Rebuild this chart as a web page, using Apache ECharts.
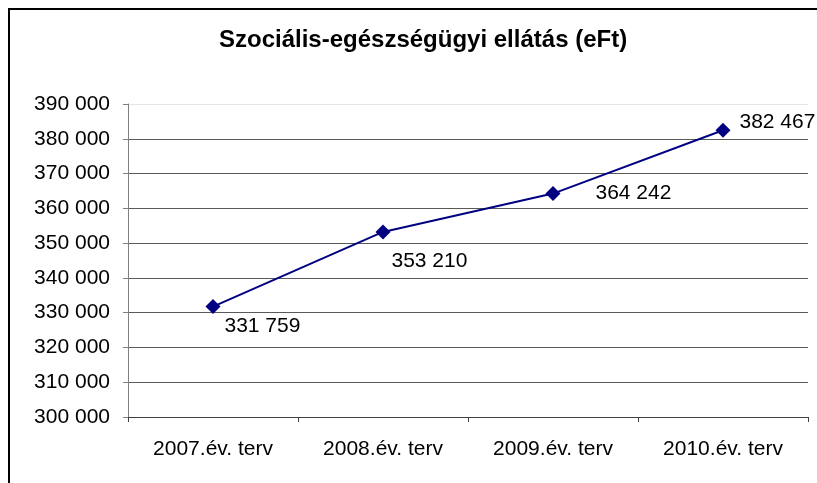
<!DOCTYPE html>
<html>
  <head>
    <meta charset="utf-8">
    <title>Szociális-egészségügyi ellátás</title>
    <script src="https://cdn.jsdelivr.net/npm/echarts@6/dist/echarts.min.js"></script>
    <style>
      html, body { margin: 0; padding: 0; background: #fff; }
    </style>
  </head>
  <body>
    <div id="main" style="width: 817px;height:483px;"></div>
    <script type="text/javascript">
      // adatok
      var categories = ['2007.év. terv', '2008.év. terv', '2009.év. terv', '2010.év. terv']
      var values = [331759, 353210, 364242, 382467]
      var yTicks = [300000, 310000, 320000, 330000, 340000, 350000, 360000, 370000, 380000, 390000]

      // címkék eltolása (csak kinézet)
      var labelOffsets = [[0, 20], [-3, 29], [31, 0], [5, -8]]

      function fmt(v) {
        return String(v).replace(/\B(?=(\d{3})+(?!\d))/g, ' ')
      }

      var myChart = echarts.init(document.getElementById('main'));

      var gridColors = yTicks.map((t, i) => i == yTicks.length - 1 ? '#e6e6e6' : '#5a5a5a')

      var option = {
        animation: false,
        textStyle: { fontFamily: 'Liberation Sans, Arial, sans-serif' },
        title: {
          text: 'Szociális-egészségügyi ellátás (eFt)',
          left: 214,
          top: 23,
          textStyle: {
            fontFamily: 'Liberation Sans, Arial, sans-serif',
            fontSize: 24,
            fontWeight: 'bold',
            color: '#000'
          }
        },
        graphic: [{
          type: 'rect',
          shape: { x: 9, y: 9, width: 830, height: 500 },
          style: { fill: 'none', stroke: '#000', lineWidth: 2 },
          silent: true
        }],
        grid: { left: 128, right: 9, top: 104, bottom: 66 },
        xAxis: {
          type: 'category',
          data: categories,
          boundaryGap: true,
          axisLine: { lineStyle: { color: '#404040', width: 1 } },
          axisTick: { show: true, length: 5, lineStyle: { color: '#404040' } },
          axisLabel: { color: '#000', fontSize: 21, margin: 22 }
        },
        yAxis: {
          type: 'value',
          min: yTicks[0],
          max: yTicks[yTicks.length - 1],
          interval: 10000,
          axisLine: { show: true, lineStyle: { color: '#808080', width: 1 } },
          axisTick: { show: true, length: 5, lineStyle: { color: '#808080' } },
          axisLabel: { color: '#000', fontSize: 21, margin: 18, formatter: fmt },
          splitLine: { show: true, lineStyle: { color: gridColors, width: 1 } }
        },
        series: [{
          type: 'line',
          data: values.map((v, i) => ({
            value: v,
            label: { offset: labelOffsets[i] }
          })),
          symbol: 'diamond',
          symbolSize: 15,
          lineStyle: { color: '#000080', width: 2 },
          itemStyle: { color: '#000080' },
          label: {
            show: true,
            position: 'right',
            distance: 4,
            color: '#000',
            fontSize: 21,
            formatter: p => fmt(p.value)
          }
        }]
      };

      myChart.setOption(option);
    </script>
  </body>
</html>
